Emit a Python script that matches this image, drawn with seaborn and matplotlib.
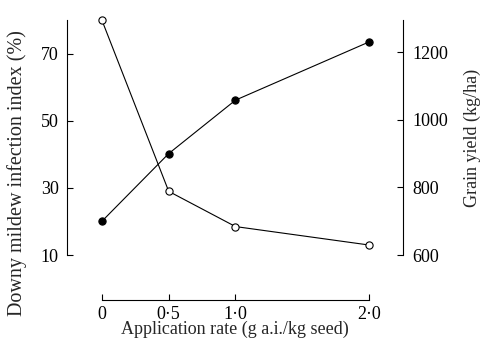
import matplotlib
matplotlib.use("Agg")
import matplotlib.pyplot as plt
import seaborn as sns
import pandas as pd

sns.set_theme(style="ticks")
plt.rcParams["font.family"] = ["Liberation Serif", "DejaVu Serif"]

# Data
rate = [0, 0.5, 1.0, 2.0]
infection = [80, 29, 18.5, 13]          # downy mildew infection index (%)
grain_yield = [700, 900, 1058, 1230]    # kg/ha

x_ticks = [0, 0.5, 1.0, 2.0]
x_labels = ["0", "0·5", "1·0", "2·0"]
left_ticks = [10, 30, 50, 70]
right_ticks = [600, 800, 1000, 1200]

df = pd.DataFrame({"rate": rate, "infection": infection, "yield": grain_yield})

fig = plt.figure(figsize=(4.87, 3.45), dpi=100)
ax = fig.add_axes([67 / 487, 45 / 345, 336 / 487, 280 / 345])
ax2 = ax.twinx()

line_kw = dict(color="black", linewidth=0.8, markersize=5.2, markeredgewidth=0.8,
               clip_on=False)
sns.lineplot(data=df, x="rate", y="infection", ax=ax, marker="o",
             markerfacecolor="white", markeredgecolor="black", **line_kw)
sns.lineplot(data=df, x="rate", y="yield", ax=ax2, marker="o",
             markerfacecolor="black", markeredgecolor="black", **line_kw)

ax.set_xlim(-0.262, 2.255)
ax.set_ylim(-3.4, 80.1)
ax2.set_ylim(467, 1295)

for a in (ax, ax2):
    a.spines["top"].set_visible(False)
    for s in a.spines.values():
        s.set_linewidth(0.8)
        s.set_color("black")

ax.spines["right"].set_visible(False)
ax2.spines["left"].set_visible(False)
ax2.spines["bottom"].set_visible(False)
ax.spines["left"].set_bounds(10, 80.1)
ax.spines["bottom"].set_bounds(0, 2.0)
ax2.spines["right"].set_bounds(600, 1295)

ax.set_xticks(x_ticks)
ax.set_xticklabels(x_labels)
ax.set_yticks(left_ticks)
ax2.set_yticks(right_ticks)

ax.tick_params(axis="y", direction="in", length=4, width=0.8, colors="black",
               labelsize=13, pad=6)
ax.tick_params(axis="x", direction="in", length=4, width=0.8, colors="black",
               labelsize=13, pad=4)
ax2.tick_params(axis="y", direction="in", length=4, width=0.8, colors="black",
                labelsize=13, pad=7)

ax.set_xlabel("Application rate (g a.i./kg seed)", fontsize=13)
ax.set_ylabel("Downy mildew infection index (%)", fontsize=14.5)
ax2.set_ylabel("Grain yield (kg/ha)", fontsize=13, rotation=90)
ax.xaxis.set_label_coords(0.5, -0.075)
ax.yaxis.set_label_coords(-0.119, 0.455)
ax2.yaxis.set_label_coords(1.18, 0.58)

fig.savefig("out.png", dpi=100)
